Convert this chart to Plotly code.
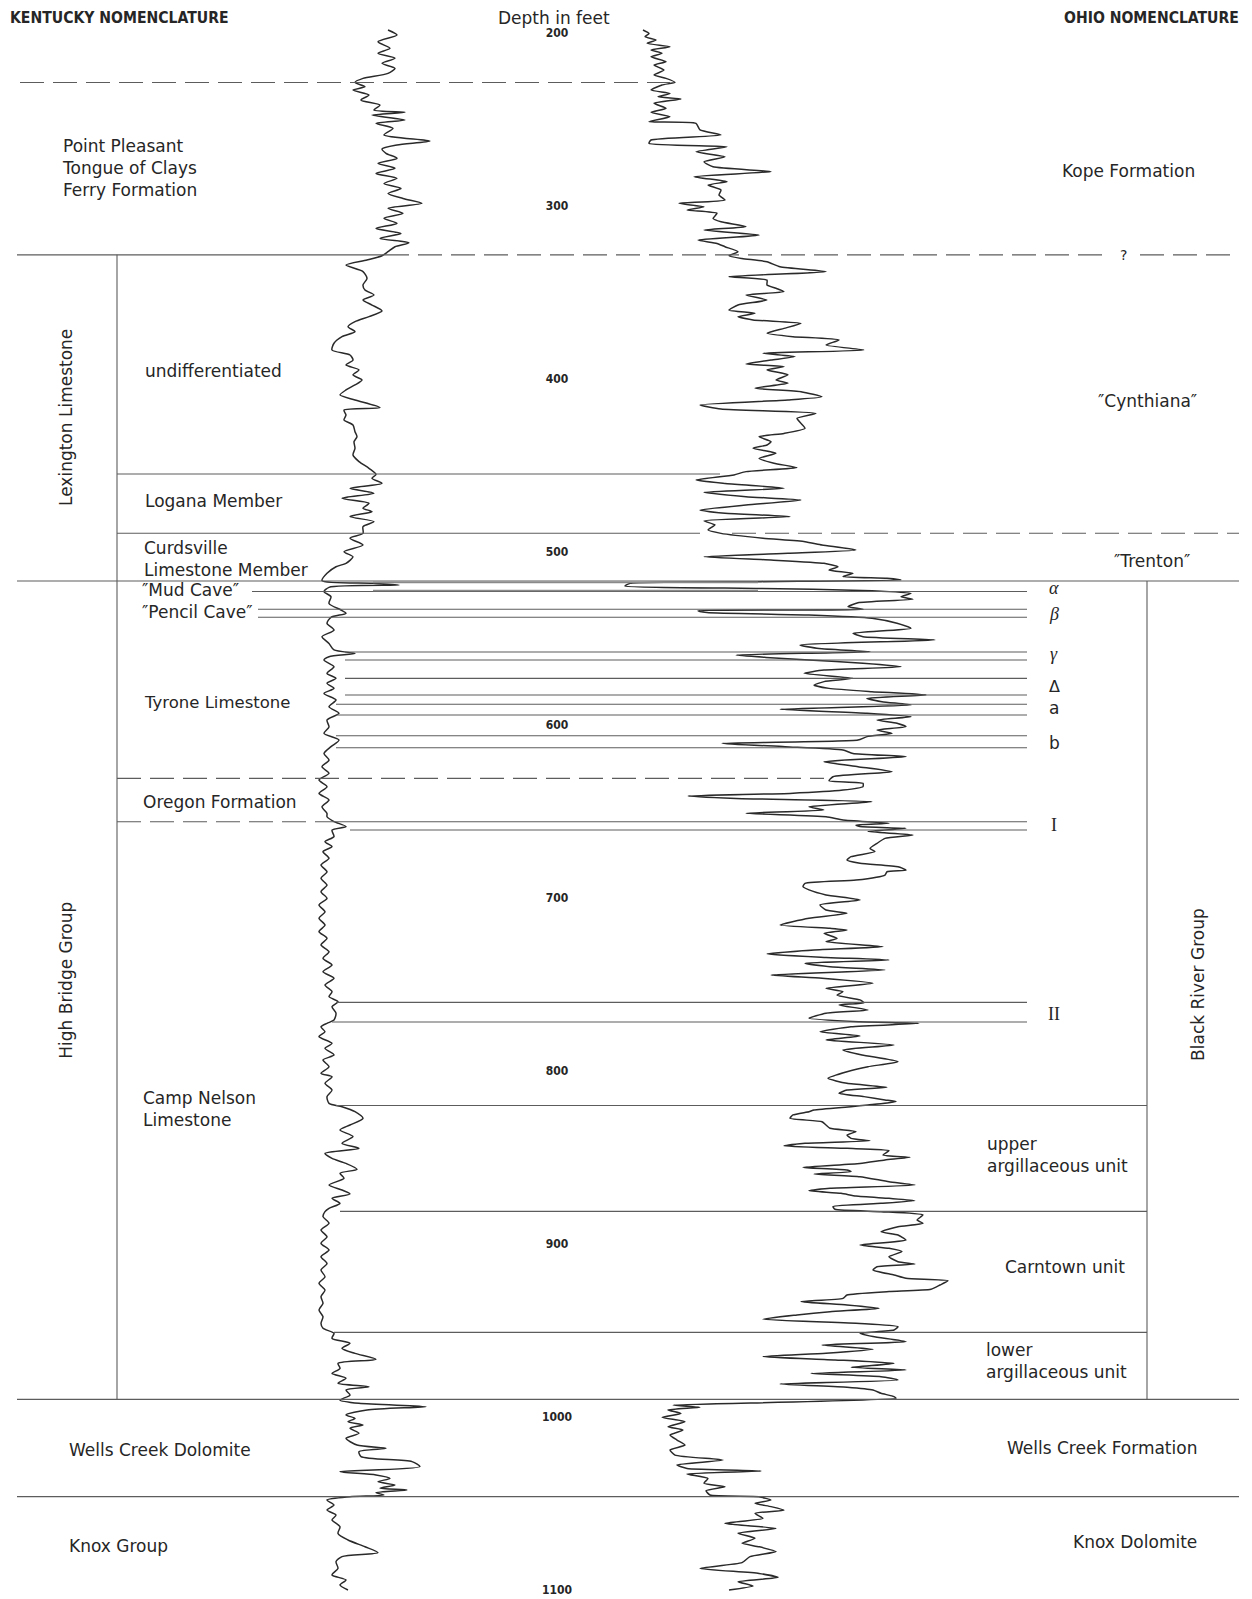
import plotly.graph_objects as go

# ---------------- data (depth in feet, log readings in chart units) ----------------
depth_ticks = [200, 300, 400, 500, 600, 700, 800, 900, 1000, 1100]

# left log (Kentucky side curve): (depth ft, reading)
left_log = [
    (197.9, 88), (200.8, 97), (204.7, 78), (208.5, 90), (211.4, 78), (214.3, 95), (217.2, 82),
    (220.1, 95), (223.0, 88), (225.9, 63), (228.2, 55), (230.7, 65), (232.6, 53), (235.5, 69),
    (238.4, 61), (241.3, 80), (244.2, 74), (245.5, 105), (247.1, 72), (250.0, 105), (251.9, 76),
    (254.8, 93), (258.6, 84), (262.1, 130), (264.4, 97), (266.7, 82), (269.2, 86), (272.1, 97),
    (275.0, 78), (277.9, 95), (280.8, 76), (283.7, 97), (286.6, 84), (289.5, 101), (292.4, 88),
    (295.3, 103), (298.1, 122), (301.0, 88), (303.9, 103), (306.8, 84), (309.7, 97), (312.6, 76),
    (315.5, 101), (318.4, 80), (320.9, 109), (323.2, 95), (326.1, 88), (328.4, 82), (330.9, 67),
    (333.8, 46), (337.6, 63), (341.5, 67),
    (345.3, 63), (348.2, 65), (351.1, 74), (354.0, 63), (356.9, 72), (360.3, 82), (363.6, 69),
    (366.5, 55), (369.4, 48), (372.3, 55), (375.2, 42), (379.0, 34), (382.9, 32), (385.8, 50),
    (388.7, 53), (391.5, 46), (394.4, 59), (397.3, 53), (400.2, 62), (403.1, 55), (406.0, 46),
    (408.9, 40), (411.8, 55), (416.2, 80), (417.6, 44), (420.5, 46), (423.3, 44), (426.2, 53),
    (430.1, 55), (433.0, 57), (435.9, 54), (439.7, 55), (443.6, 53), (447.4, 59), (451.3, 69),
    (454.8, 76), (457.1, 72), (460.0, 82), (462.8, 50), (465.7, 74), (468.6, 42), (471.5, 69),
    (474.4, 63), (476.3, 72), (479.2, 50), (482.1, 74), (485.0, 63), (488.9, 63), (491.7, 50),
    (495.6, 63), (499.5, 44), (502.4, 53), (506.2, 46),
    (508.2, 36), (512.0, 27), (516.2, 22), (517.8, 73), (518.8, 99), (520.1, 29), (522.6, 24),
    (525.5, 31), (529.4, 29), (533.2, 41), (535.1, 46), (537.4, 31), (540.9, 27), (544.8, 34),
    (548.6, 22), (552.5, 29), (556.3, 34), (558.3, 55), (560.2, 29), (562.1, 24), (566.0, 34),
    (569.8, 27), (572.7, 36), (575.6, 27), (578.5, 34), (581.4, 24), (585.2, 36), (589.1, 29),
    (592.9, 39), (596.8, 27), (600.7, 29), (604.5, 24), (608.4, 39), (612.2, 31), (616.1, 24),
    (620.0, 29), (623.8, 22), (627.6, 29), (631.5, 19), (635.3, 27), (639.2, 19), (643.0, 29),
    (646.9, 22), (650.8, 27),
    (652.7, 27), (655.5, 34), (658.4, 46), (660.4, 32), (664.2, 34), (667.1, 25), (670.0, 32),
    (672.9, 23), (676.7, 29), (680.6, 21), (684.5, 27), (688.3, 21), (692.2, 27), (696.0, 21),
    (699.9, 27), (703.7, 19), (707.6, 25), (711.4, 19), (715.3, 25), (719.1, 19), (723.0, 27),
    (726.8, 21), (730.7, 29), (734.6, 23), (738.4, 32), (742.3, 23), (746.1, 34), (750.0, 25),
    (753.8, 32), (756.7, 29), (759.6, 38), (762.5, 32), (766.3, 36), (770.2, 34), (772.1, 27),
    (774.1, 21), (777.0, 25), (779.8, 19), (783.7, 32), (786.6, 25), (790.4, 34), (793.3, 23),
    (797.2, 29), (801.0, 21),
    (803.0, 32), (806.8, 25), (810.7, 32), (814.5, 27), (818.4, 29), (820.3, 42), (823.2, 55),
    (827.1, 63), (830.9, 50), (833.8, 40), (837.6, 53), (841.5, 42), (844.4, 59), (847.3, 25),
    (850.2, 32), (853.1, 46), (856.5, 57), (858.8, 40), (861.7, 44), (865.6, 29), (868.5, 42),
    (870.8, 50), (873.3, 32), (876.2, 40), (879.1, 29), (881.0, 25), (883.9, 23), (887.7, 29),
    (891.6, 21), (895.5, 27), (899.3, 21), (903.2, 29), (907.0, 21), (910.9, 27), (914.7, 21),
    (918.6, 25), (922.4, 19), (926.3, 25), (930.1, 21), (934.0, 23), (937.8, 19), (941.7, 23),
    (945.6, 21), (948.4, 23),
    (951.3, 34), (954.2, 32), (957.1, 50), (960.0, 42), (962.9, 55), (966.4, 76), (968.7, 38),
    (971.6, 40), (974.5, 32), (977.3, 46), (980.2, 38), (982.2, 69), (984.1, 46), (987.0, 50),
    (989.9, 40), (991.8, 59), (993.7, 126), (995.6, 67), (998.5, 46), (1000.5, 55), (1002.4, 48),
    (1004.3, 63), (1006.2, 50), (1009.1, 59), (1012.0, 46), (1015.9, 57), (1017.8, 86),
    (1019.7, 59), (1022.6, 61), (1025.5, 112), (1028.4, 120), (1031.3, 40), (1033.2, 76),
    (1035.2, 90), (1037.1, 78), (1039.0, 95), (1040.9, 80), (1041.9, 107), (1043.4, 76),
    (1044.8, 84), (1045.8, 50), (1047.7, 27), (1050.6, 34), (1053.5, 27), (1056.4, 36),
    (1059.2, 32), (1063.1, 40), (1067.0, 38), (1070.8, 48), (1074.7, 65), (1078.1, 78),
    (1080.4, 42), (1083.3, 36), (1087.2, 38), (1091.0, 32), (1093.9, 46), (1096.8, 40),
    (1099.7, 48),
]

# right log (Ohio side curve): (depth ft, reading)
right_log = [
    (197.9, 43), (199.9, 49), (201.8, 45), (203.7, 56), (205.6, 47), (207.6, 70), (209.5, 51),
    (211.4, 62), (213.4, 51), (216.2, 66), (218.2, 54), (221.1, 64), (223.9, 54), (225.9, 66),
    (228.2, 75), (229.7, 62), (232.6, 51), (234.6, 70), (236.5, 58), (237.8, 81), (240.3, 54),
    (243.2, 66), (245.5, 51), (248.0, 70), (250.9, 49), (251.9, 96), (255.7, 100), (258.6, 121),
    (261.5, 51), (263.5, 49), (265.4, 127), (268.3, 96), (271.2, 125), (274.1, 104), (277.0, 113),
    (279.8, 171), (282.7, 94), (285.6, 127), (287.5, 108), (290.4, 121), (293.3, 119),
    (296.2, 125), (298.1, 79), (300.1, 104), (302.0, 87), (303.9, 117), (306.8, 113),
    (308.8, 121), (311.6, 146), (313.6, 104), (316.5, 159), (319.3, 98), (321.3, 117),
    (323.2, 125), (326.1, 138), (328.4, 129), (330.0, 142), (331.9, 167), (334.8, 180),
    (337.6, 226), (340.5, 129), (342.5, 167),
    (345.3, 167), (347.2, 176), (349.2, 184), (351.1, 146), (354.0, 167), (356.9, 138),
    (359.8, 129), (361.7, 155), (363.6, 138), (365.5, 153), (367.5, 201), (370.4, 184),
    (373.2, 167), (375.2, 193), (377.1, 239), (380.0, 226), (382.9, 264), (384.8, 163),
    (386.7, 195), (388.7, 171), (391.0, 146), (392.5, 184), (394.4, 167), (397.3, 188),
    (400.2, 176), (402.1, 188), (405.0, 155), (407.0, 201), (409.9, 222), (411.8, 188),
    (414.7, 100), (417.0, 121), (419.5, 216), (422.4, 197), (425.3, 201), (428.2, 205),
    (431.1, 184), (433.0, 159), (435.9, 171), (437.8, 167), (439.7, 153), (442.6, 176),
    (445.5, 159), (448.4, 174), (450.9, 197), (453.2, 146), (455.1, 134), (458.0, 96),
    (460.0, 125), (462.8, 184), (465.2, 104), (467.7, 146), (469.6, 201), (472.5, 146),
    (475.4, 100), (477.3, 125), (479.2, 190), (481.7, 104), (484.0, 115), (486.9, 108),
    (488.9, 121), (491.7, 163), (493.7, 205), (495.6, 222), (498.5, 256), (500.4, 188),
    (502.4, 104), (504.3, 171), (506.2, 224),
    (508.2, 238), (510.1, 229), (512.0, 253), (513.9, 243), (514.9, 287), (515.9, 301),
    (516.8, 161), (517.8, 30), (519.3, 25), (520.7, 156), (522.0, 272), (523.6, 311),
    (525.5, 301), (527.0, 313), (529.0, 258), (531.3, 248), (532.8, 263), (533.6, 98),
    (534.7, 107), (536.1, 209), (538.0, 272), (540.9, 297), (543.8, 311), (546.7, 253),
    (548.6, 263), (550.5, 335), (553.4, 200), (555.4, 219), (557.3, 270), (559.2, 136),
    (560.6, 166), (562.1, 209), (564.0, 263), (566.0, 301), (567.9, 224), (569.8, 204),
    (572.7, 253), (574.6, 224), (576.6, 214), (578.5, 229), (580.4, 272), (582.3, 326),
    (584.3, 267), (586.2, 282), (588.1, 311), (590.6, 180), (592.9, 267), (594.9, 311),
    (596.8, 277), (598.7, 297), (600.7, 306), (602.6, 277), (604.5, 292), (606.4, 267),
    (608.4, 258), (610.3, 122), (612.2, 185), (614.1, 243), (616.1, 253), (618.0, 306),
    (620.9, 224), (623.8, 258), (626.7, 292), (629.6, 233), (631.9, 229), (633.4, 263),
    (635.3, 263), (637.3, 243), (639.2, 190), (640.7, 88), (642.1, 136), (644.0, 272),
    (646.9, 209), (648.8, 224), (650.7, 146),
    (652.7, 226), (654.6, 243), (656.5, 289), (657.5, 256), (658.4, 260), (659.4, 306),
    (661.3, 268), (663.2, 313), (665.2, 285), (668.1, 277), (671.0, 270), (672.9, 275),
    (675.8, 251), (677.7, 247), (679.6, 260), (681.6, 298), (683.5, 306), (684.5, 287),
    (686.4, 285), (689.3, 256), (691.2, 205), (693.1, 203), (695.0, 209), (697.9, 226),
    (700.8, 260), (703.7, 220), (706.6, 226), (708.5, 247), (711.4, 209), (715.3, 180),
    (717.2, 230), (718.2, 247), (720.1, 224), (723.0, 237), (724.9, 226), (727.8, 283),
    (729.7, 214), (732.0, 167), (734.0, 226), (735.5, 289), (737.4, 205), (739.4, 230),
    (741.3, 285), (744.2, 171), (746.1, 222), (749.0, 273), (751.9, 226), (753.8, 243),
    (755.8, 237), (758.6, 260), (760.2, 264), (761.5, 239), (764.4, 268), (766.3, 226),
    (769.2, 209), (771.2, 260), (772.1, 319), (774.1, 251), (777.0, 220), (779.4, 260),
    (781.7, 226), (784.6, 294), (787.5, 243), (790.4, 262), (794.3, 298), (797.2, 268),
    (800.1, 247),
    (803.9, 228), (806.8, 247), (809.1, 287), (810.7, 247), (812.6, 239), (814.5, 264),
    (816.4, 285), (817.4, 296), (819.3, 268), (820.3, 251), (822.2, 214), (823.2, 209),
    (825.1, 193), (827.0, 190), (829.0, 222), (830.9, 226), (832.8, 230), (834.7, 256),
    (836.7, 247), (838.6, 251), (840.0, 270), (841.5, 205), (843.0, 184), (844.4, 247),
    (845.7, 289), (848.2, 283), (849.6, 310), (851.1, 285), (853.1, 260), (855.4, 203),
    (856.9, 247), (857.9, 251), (859.2, 214), (860.8, 260), (863.7, 289), (865.6, 315),
    (867.5, 230), (868.9, 209), (870.4, 241), (872.0, 256), (873.3, 289), (874.6, 315),
    (876.2, 281), (878.1, 233), (879.6, 235), (881.0, 281), (882.9, 323), (885.8, 317),
    (887.7, 323), (889.7, 298), (892.6, 281), (894.5, 298), (897.4, 306), (900.3, 260),
    (902.2, 289), (904.1, 302), (907.0, 289), (909.9, 298), (911.3, 315), (912.8, 277),
    (914.7, 273), (917.6, 294), (919.5, 306), (920.9, 348), (923.4, 340), (925.9, 331),
    (927.2, 289), (929.2, 247), (931.1, 243), (933.0, 201), (934.9, 247), (936.9, 279),
    (938.8, 230), (940.7, 197), (943.2, 163), (945.6, 260), (947.5, 298), (949.4, 294),
    (951.3, 260), (953.2, 273), (956.1, 306), (958.1, 222), (960.6, 273), (962.9, 226),
    (964.8, 163), (966.7, 235), (968.7, 294), (971.0, 251), (972.5, 306), (974.5, 211),
    (976.4, 281), (978.3, 298), (980.6, 180), (982.5, 247), (984.1, 273), (986.0, 281),
    (987.9, 294), (988.9, 296), (992.8, 73), (994.1, 100), (995.6, 68), (997.6, 81),
    (999.9, 62), (1002.4, 85), (1005.3, 68), (1007.2, 83), (1010.1, 70), (1013.0, 77),
    (1015.9, 85), (1018.8, 70), (1021.7, 75), (1024.6, 123), (1027.4, 77), (1029.4, 87),
    (1030.9, 161), (1032.6, 87), (1035.2, 108), (1038.0, 104), (1040.0, 125), (1042.3, 106),
    (1044.8, 110), (1045.8, 159), (1047.7, 171), (1049.6, 155), (1051.5, 171), (1053.5, 184),
    (1055.4, 155), (1058.3, 163), (1061.2, 125), (1064.1, 176), (1066.9, 138), (1069.8, 155),
    (1072.7, 142), (1074.7, 159), (1077.5, 176), (1080.4, 150), (1083.9, 142), (1087.2, 100),
    (1090.1, 159), (1092.4, 178), (1094.9, 138), (1097.4, 153), (1099.7, 129),
]

# formation boundaries (depth, ft)
kope_top = 228.3
lexington_top = 327.9
logana_top = 454.6
curdsville_top = 488.8
tyrone_top = 516.4
mud_cave = 522.5
pencil_cave = [532.8, 537.4]
marker_gamma = [557.5, 562.1]
marker_delta = [572.7, 582.3]
marker_a = [587.7, 593.9]
marker_b = [605.9, 612.8]
oregon_top = 630.5
camp_nelson_top = 655.6
marker_I = [655.6, 660.4]
marker_II = [760.0, 771.4]
upper_arg_top = 819.6
carntown_top = 880.8
lower_arg_top = 950.8
wells_creek_top = 989.5
knox_top = 1045.7

# label texts and their depths
kentucky_labels = [
    ("Point Pleasant<br>Tongue of Clays<br>Ferry Formation", 277.9),
    ("undifferentiated", 395.0),
    ("Logana Member", 470.0),
    ("Curdsville<br>Limestone Member", 503.5),
    ("\u2033Mud Cave\u2033", 521.7),
    ("\u2033Pencil Cave\u2033", 534.2),
    ("Tyrone Limestone", 586.6),
    ("Oregon Formation", 644.4),
    ("Camp Nelson<br>Limestone", 821.8),
    ("Wells Creek Dolomite", 1018.6),
    ("Knox Group", 1074.0),
]
kentucky_groups = [("Lexington Limestone", 422.2), ("High Bridge Group", 747.5)]
ohio_labels = [
    ("Kope Formation", 279.6),
    ("\u2033Cynthiana\u2033", 412.2),
    ("\u2033Trenton\u2033", 504.7),
    ("upper<br>argillaceous unit", 848.5),
    ("Carntown unit", 913.0),
    ("lower<br>argillaceous unit", 967.3),
    ("Wells Creek Formation", 1017.4),
    ("Knox Dolomite", 1072.2),
]
ohio_groups = [("Black River Group", 749.9)]
bed_markers = [("<i>\u03b1</i>", 520.6), ("<i>\u03b2</i>", 535.3), ("<i>\u03b3</i>", 558.9),
               ("\u0394", 577.3), ("a", 589.6), ("b", 610.2), ("I", 657.4), ("II", 767.0)]

# ---------------- layout / style ----------------
PAGE_W, PAGE_H = 1252, 1599
OFF = 8                      # default page margin around the plot div
W, H = PAGE_W - OFF, PAGE_H - OFF
Y_RANGE = [1104.9, 185.2]
INK = "#262626"
LINE = "#5c5c5c"
BODY = "DejaVu Sans"
NARROW = "Liberation Sans Narrow, DejaVu Sans Condensed, Arial Narrow, sans-serif"
SERIF = "Liberation Serif, DejaVu Serif, serif"


def dom(px0, px1):
    return [(px0 - OFF) / W, (px1 - OFF) / W]


left_depth = [d for d, _ in left_log]
left_val = [v for _, v in left_log]
right_depth = [d for d, _ in right_log]
right_val = [v for _, v in right_log]

fig = go.Figure()
fig.add_trace(go.Scatter(x=left_val, y=left_depth, xaxis="x2", yaxis="y", mode="lines",
                         line=dict(color="#2a2a2a", width=1.5, shape="spline", smoothing=0.7),
                         hoverinfo="skip"))
fig.add_trace(go.Scatter(x=right_val, y=right_depth, xaxis="x3", yaxis="y", mode="lines",
                         line=dict(color="#2a2a2a", width=1.5, shape="spline", smoothing=0.5),
                         hoverinfo="skip"))
# depth labels down the centre
fig.add_trace(go.Scatter(x=[557] * len(depth_ticks), y=depth_ticks, mode="text",
                         text=[str(t) for t in depth_ticks],
                         textfont=dict(family=NARROW, size=12, color=INK, weight="bold"),
                         hoverinfo="skip"))

shapes = []


def hline(depth, x0, x1, dash="solid", width=1.1, color=LINE):
    shapes.append(dict(type="line", xref="x", yref="y", x0=x0, x1=x1, y0=depth, y1=depth,
                       line=dict(color=color, width=width, dash=dash)))


def vline(x, d0, d1):
    shapes.append(dict(type="line", xref="x", yref="y", x0=x, x1=x, y0=d0, y1=d1,
                       line=dict(color=LINE, width=1.1)))


DASH = "24px,9px"
hline(kope_top, 20, 670, DASH)
hline(lexington_top, 17, 385)
hline(lexington_top, 385, 1105, DASH)
hline(lexington_top, 1140, 1239, DASH)
hline(logana_top, 117, 720)
hline(curdsville_top, 117, 700)
hline(curdsville_top, 732, 1239, DASH)
hline(tyrone_top, 17, 1239)
hline(mud_cave, 252, 1027)
hline(tyrone_top + 0.8, 373, 758, color="#8a8a8a", width=1.6)
hline(mud_cave - 0.6, 373, 758, color="#8a8a8a", width=1.6)
for d in pencil_cave:
    hline(d, 258, 1027)
for d in marker_gamma + marker_delta:
    hline(d, 345, 1027)
for d in marker_a + marker_b:
    hline(d, 336, 1027)
hline(oregon_top, 117, 824, DASH)
hline(camp_nelson_top, 117, 330, DASH)
hline(marker_I[0], 330, 1027)
hline(marker_I[1], 350, 1027)
hline(marker_II[0], 336, 1027)
hline(marker_II[1], 332, 1027)
hline(upper_arg_top, 336, 1147)
hline(carntown_top, 340, 1147)
hline(lower_arg_top, 334, 1147)
hline(wells_creek_top, 17, 1239)
hline(knox_top, 17, 1239)
vline(117, lexington_top, wells_creek_top)
vline(1147, tyrone_top, wells_creek_top)

ann = []


def label(text, depth, x, anchor="left", size=17, family=BODY, angle=0):
    ann.append(dict(text=text, x=x, y=depth, xref="x", yref="y", xanchor=anchor,
                    yanchor="middle", showarrow=False, textangle=angle,
                    align=anchor if anchor != "center" else "center",
                    font=dict(family=family, size=size, color=INK)))


ky_x = [60, 143, 143, 142, 140, 140, 142, 141, 141, 67, 67]
ky_size = [17, 17, 17, 17, 17, 17, 16.5, 17, 17, 17, 17]
for (t, d), x, s in zip(kentucky_labels, ky_x, ky_size):
    label(t, d, x, "left", s)
for (t, d) in kentucky_groups:
    label(t, d, 66, "center", 17, angle=-90)

oh_pos = [(1128, "center"), (1147, "center"), (1152, "center"), (985, "left"),
          (1065, "center"), (984, "left"), (1102, "center"), (1135, "center")]
for (t, d), (x, a) in zip(ohio_labels, oh_pos):
    label(t, d, x, a, 17)
for (t, d) in ohio_groups:
    label(t, d, 1198, "center", 17, angle=-90)

marker_fonts = [SERIF, SERIF, SERIF, BODY, BODY, BODY, SERIF, SERIF]
marker_sizes = [18, 18, 18, 16, 17, 17, 18, 18]
for (t, d), f, s in zip(bed_markers, marker_fonts, marker_sizes):
    label(t, d, 1054, "center", s, family=f)

label("?", lexington_top, 1123, "center", 14)

# header
HEAD_Y = 1 - (17.5 - OFF) / H
ann.append(dict(text="KENTUCKY NOMENCLATURE", x=8, y=HEAD_Y, xref="x", yref="paper",
                xanchor="left", yanchor="middle", showarrow=False,
                font=dict(family=NARROW, size=15.6, color=INK, weight="bold")))
ann.append(dict(text="OHIO NOMENCLATURE", x=1241, y=HEAD_Y, xref="x", yref="paper",
                xanchor="right", yanchor="middle", showarrow=False,
                font=dict(family=NARROW, size=15.6, color=INK, weight="bold")))
ann.append(dict(text="Depth in feet", x=554, y=HEAD_Y, xref="x", yref="paper",
                xanchor="center", yanchor="middle", showarrow=False,
                font=dict(family=BODY, size=17, color=INK)))

fig.update_layout(
    width=W, height=H, margin=dict(l=0, r=0, t=0, b=0),
    paper_bgcolor="white", plot_bgcolor="white", showlegend=False,
    xaxis=dict(range=[OFF, PAGE_W], domain=[0, 1], visible=False, fixedrange=True),
    xaxis2=dict(range=[0, 150], domain=dom(300, 450), anchor="y", visible=False),
    xaxis3=dict(range=[0, 360], domain=dom(600, 960), anchor="y", visible=False),
    yaxis=dict(range=Y_RANGE, domain=[0, 1], visible=False),
    shapes=shapes, annotations=ann,
)

fig.write_html("out.html")
